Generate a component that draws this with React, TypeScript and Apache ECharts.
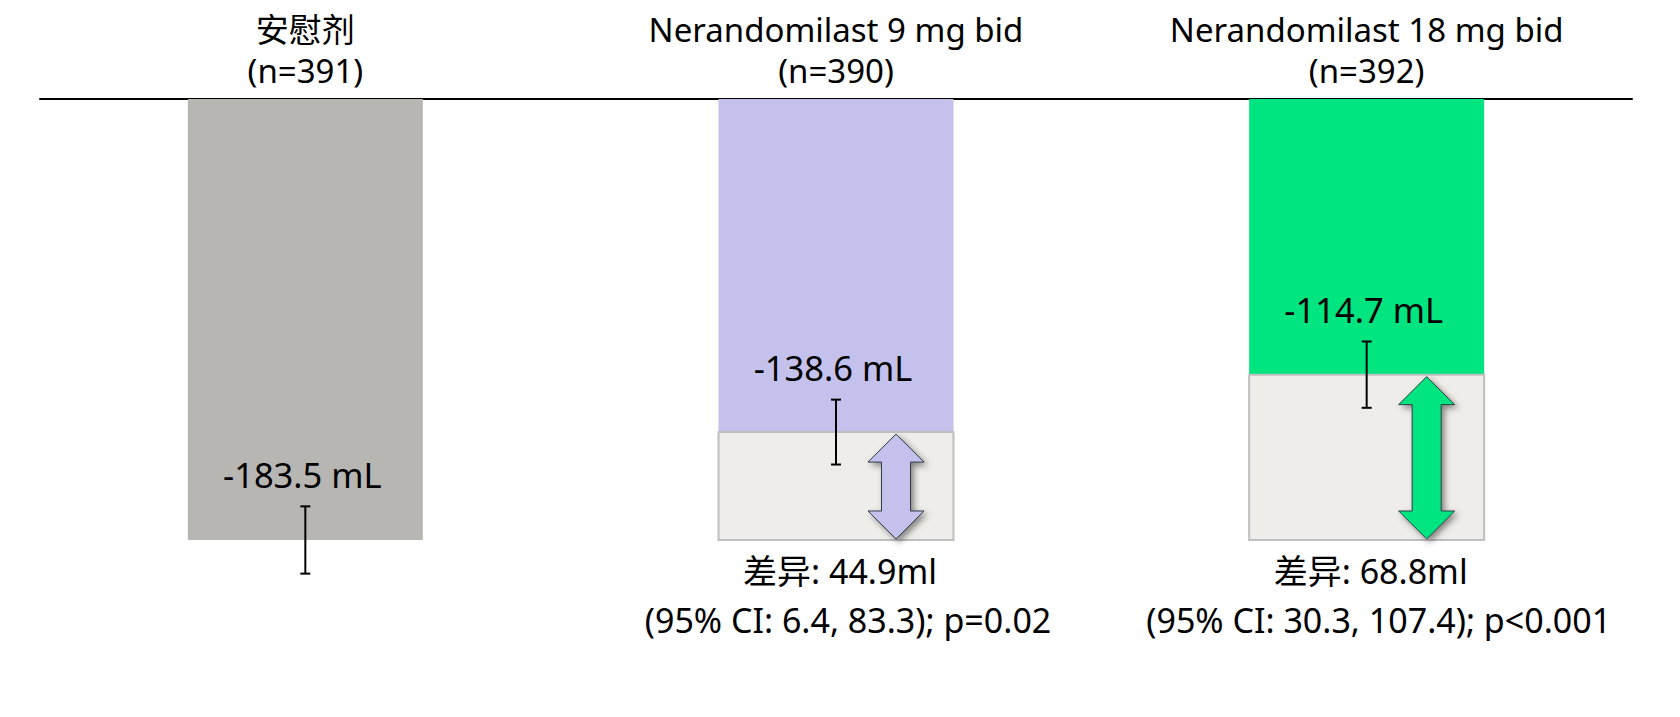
import React, { useEffect, useRef } from 'react';
import * as echarts from 'echarts';

// Change in FVC (mL) by treatment group
const groups = ['安慰剂', 'Nerandomilast 9 mg bid', 'Nerandomilast 18 mg bid'];
const sampleSizes = ['(n=391)', '(n=390)', '(n=392)'];
const means = [-183.5, -138.6, -114.7];
const errUpper = [-169.5, -125.1, -100.9];
const errLower = [-197.5, -152.1, -128.5];
const diffs = [0, 44.9, 68.8];
const diffCI = ['', '(95% CI: 6.4, 83.3); p=0.02', '(95% CI: 30.3, 107.4); p<0.001'];

const barColors = ['#B7B6B2', '#C4C2EC', '#00E57F'];
const FONT = "'Noto Sans', 'Noto Sans CJK SC', sans-serif";
const BAR_W = 235;

export default function App() {
  const chartRef = useRef<HTMLDivElement>(null);

  useEffect(() => {
    if (!chartRef.current) return;
    const chart = echarts.init(chartRef.current, null, { renderer: 'svg' });

    const boxData = means
      .map((m, i) => [i, m, m - diffs[i]])
      .filter((d, i) => diffs[i] > 0);

    const option: any = {
      animation: false,
      backgroundColor: '#fff',
      grid: { left: 40, right: 48, top: 99, bottom: 17.2 },
      xAxis: {
        type: 'category',
        data: groups,
        position: 'top',
        axisLine: { onZero: false, lineStyle: { color: '#000', width: 2 } },
        axisTick: { show: false },
        splitLine: { show: false },
        axisLabel: {
          interval: 0,
          margin: 8,
          color: '#000',
          fontFamily: FONT,
          fontSize: 33,
          lineHeight: 41,
          formatter: (v: string, idx: number) => `${v}\n${sampleSizes[idx]}`
        }
      },
      yAxis: {
        type: 'value',
        min: -250,
        max: 0,
        show: false,
        splitLine: { show: false }
      },
      series: [
        {
          type: 'bar',
          barWidth: BAR_W,
          z: 2,
          data: means.map((m, i) => ({ value: m, itemStyle: { color: barColors[i] } }))
        },
        {
          // difference box vs placebo
          type: 'custom',
          z: 3,
          data: boxData,
          renderItem: (params: any, api: any) => {
            const top = api.coord([api.value(0), api.value(1)]);
            const bottom = api.coord([api.value(0), api.value(2)]);
            return {
              type: 'rect',
              shape: { x: top[0] - BAR_W / 2, y: top[1], width: BAR_W, height: bottom[1] - top[1] },
              style: { fill: '#EEEDE9', stroke: '#BFBFBF', lineWidth: 2 }
            };
          }
        },
        {
          // error bars
          type: 'custom',
          z: 5,
          data: means.map((m, i) => [i, errUpper[i], errLower[i]]),
          renderItem: (params: any, api: any) => {
            const hi = api.coord([api.value(0), api.value(1)]);
            const lo = api.coord([api.value(0), api.value(2)]);
            const cap = 5;
            const st = { stroke: '#000', lineWidth: 2 };
            return {
              type: 'group',
              children: [
                { type: 'line', shape: { x1: hi[0], y1: hi[1], x2: lo[0], y2: lo[1] }, style: st },
                { type: 'line', shape: { x1: hi[0] - cap, y1: hi[1], x2: hi[0] + cap, y2: hi[1] }, style: st },
                { type: 'line', shape: { x1: lo[0] - cap, y1: lo[1], x2: lo[0] + cap, y2: lo[1] }, style: st }
              ]
            };
          }
        },
        {
          // double-headed arrows for the difference
          type: 'custom',
          z: 6,
          data: boxData,
          renderItem: (params: any, api: any) => {
            const i = api.value(0);
            const top = api.coord([i, api.value(1)]);
            const bottom = api.coord([i, api.value(2)]);
            const cx = top[0] + 60;
            const y1 = top[1] + 2;
            const y2 = bottom[1] - 1;
            const hw = 28;
            const sw = 14.5;
            const hh = 28;
            return {
              type: 'polygon',
              shape: {
                points: [
                  [cx, y1], [cx + hw, y1 + hh], [cx + sw, y1 + hh], [cx + sw, y2 - hh],
                  [cx + hw, y2 - hh], [cx, y2], [cx - hw, y2 - hh], [cx - sw, y2 - hh],
                  [cx - sw, y1 + hh], [cx - hw, y1 + hh]
                ]
              },
              style: {
                fill: barColors[i],
                stroke: '#2E3C48',
                lineWidth: 1,
                shadowBlur: 6,
                shadowOffsetX: 3,
                shadowOffsetY: 3,
                shadowColor: 'rgba(0,0,0,0.45)'
              }
            };
          }
        },
        {
          // mean labels
          type: 'custom',
          z: 7,
          data: means.map((m, i) => [i, errUpper[i], m]),
          renderItem: (params: any, api: any) => {
            const p = api.coord([api.value(0), api.value(1)]);
            return {
              type: 'text',
              x: p[0] - 3,
              y: p[1] - 32,
              style: {
                text: `${api.value(2).toFixed(1)} mL`,
                fill: '#000',
                fontFamily: FONT,
                fontSize: 34.5,
                align: 'center',
                verticalAlign: 'middle'
              }
            };
          }
        },
        {
          // difference text under boxes
          type: 'custom',
          z: 7,
          data: boxData,
          renderItem: (params: any, api: any) => {
            const i = api.value(0);
            const p = api.coord([i, api.value(2)]);
            const base = { fill: '#000', fontFamily: FONT, fontSize: 34, align: 'center', verticalAlign: 'middle' };
            return {
              type: 'group',
              children: [
                { type: 'text', x: p[0] + 4, y: p[1] + 31, style: { ...base, text: `差异: ${diffs[i]}ml` } },
                { type: 'text', x: p[0] + 12, y: p[1] + 80, style: { ...base, text: diffCI[i] } }
              ]
            };
          }
        }
      ]
    };

    chart.setOption(option);
    return () => {
      chart.dispose();
    };
  }, []);

  return (
    <div
      ref={chartRef}
      style={{ position: 'absolute', left: 0, top: 0, width: 1680, height: 717 }}
    />
  );
}
